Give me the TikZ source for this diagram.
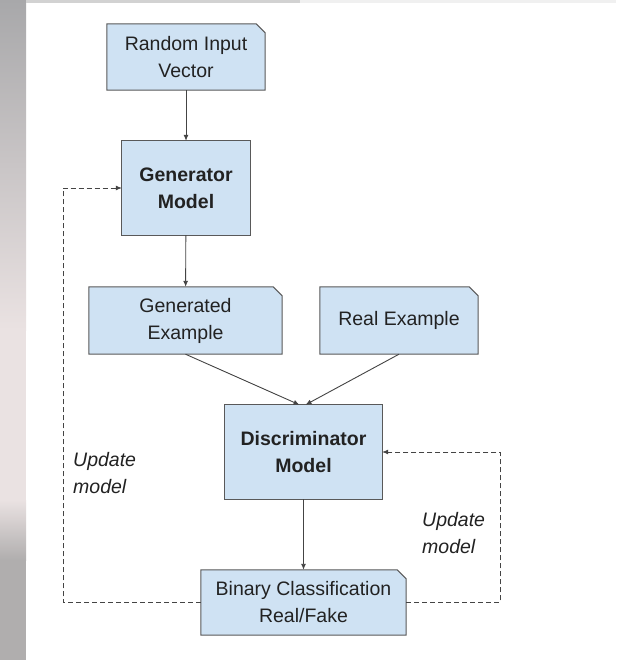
\documentclass[tikz,border=0pt]{standalone}
\usepackage{fontspec}
\setmainfont{Liberation Sans}
\usetikzlibrary{arrows.meta,backgrounds}
\definecolor{boxfill}{HTML}{CFE2F3}
\definecolor{boxline}{HTML}{595959}
\definecolor{txt}{HTML}{222222}
\definecolor{conn}{HTML}{444444}
\definecolor{stripA}{HTML}{A8A8AA}
\definecolor{stripB}{HTML}{EAE2E2}
\definecolor{stripC}{HTML}{B0AEAE}
\tikzset{
  box/.style={rectangle, inner sep=0pt, text=txt, align=center,
    font=\fontsize{19.5}{27}\selectfont},
  lbl/.style={inner sep=0pt, text=txt, align=left, anchor=west,
    font=\fontsize{19.5}{27}\selectfont\itshape},
  flow/.style={draw=conn, line width=0.9pt, -{Latex[length=6pt,width=5pt]}},
  fb/.style={draw=conn, line width=0.8pt, dash pattern=on 5pt off 3pt, -{Latex[length=6pt,width=5pt]}},
  shapeline/.style={fill=boxfill, draw=boxline, line width=1pt, line join=miter}
}
\newcommand{\dogear}[1]{%
  \path[shapeline] (#1.north west) -- ([xshift=-9pt]#1.north east) -- ([yshift=-9pt]#1.north east) -- (#1.south east) -- (#1.south west) -- cycle;}
\newcommand{\plainbox}[1]{%
  \path[shapeline] (#1.north west) rectangle (#1.south east);}
\begin{document}
\begin{tikzpicture}[x=1pt,y=-1pt]
\useasboundingbox (0,0) rectangle (616,660);

% nodes
\node[box, minimum width=158pt, minimum height=66pt] (rand) at (186,57) {Random Input\\Vector};
\node[box, minimum width=128pt, minimum height=94pt, font=\fontsize{19.5}{27}\selectfont\bfseries] (gen) at (186,188) {Generator\\Model};
\node[box, minimum width=193pt, minimum height=67pt] (gex) at (185.5,320.5) {Generated\\Example};
\node[box, minimum width=158pt, minimum height=67pt] (rex) at (399,320.5) {Real Example};
\node[box, minimum width=157pt, minimum height=94pt, font=\fontsize{19.5}{27}\selectfont\bfseries] (disc) at (303.5,452) {Discriminator\\Model};
\node[box, minimum width=205pt, minimum height=65pt] (bin) at (303.5,602.5) {Binary Classification\\Real/Fake};

\begin{scope}[on background layer]
  % page and photo strip
  \fill[white] (0,0) rectangle (616,660);
  \shade[top color=stripA, bottom color=stripB] (0,0) rectangle (26,330);
  \fill[stripB] (0,330) rectangle (26,500);
  \shade[top color=stripB, bottom color=stripC] (0,500) rectangle (26,560);
  \fill[stripC] (0,560) rectangle (26,660);
  \fill[gray!12] (26,0) rectangle (616,3);
  \fill[gray!35] (26,0) rectangle (300,3);
  % boxes
  \dogear{rand}
  \plainbox{gen}
  \dogear{gex}
  \dogear{rex}
  \plainbox{disc}
  \dogear{bin}
\end{scope}

% labels
\node[lbl] (ul) at (73,473.5) {Update\\model};
\node[lbl] (ur) at (422,533.5) {Update\\model};

% connectors
\draw[flow] (rand) -- (gen);
\draw[flow] (gen) -- (gex);
\draw[flow] (gex.south) -- ([xshift=-4pt]disc.north);
\draw[flow] (rex.south) -- ([xshift=2pt]disc.north);
\draw[flow] (disc) -- (bin);
\coordinate (lc) at (63,602.5);
\coordinate (rc) at (500,602.5);
\draw[fb] (bin.west) -- (lc) |- (gen.west);
\draw[fb] (bin.east) -- (rc) |- (disc.east);
\end{tikzpicture}
\end{document}
